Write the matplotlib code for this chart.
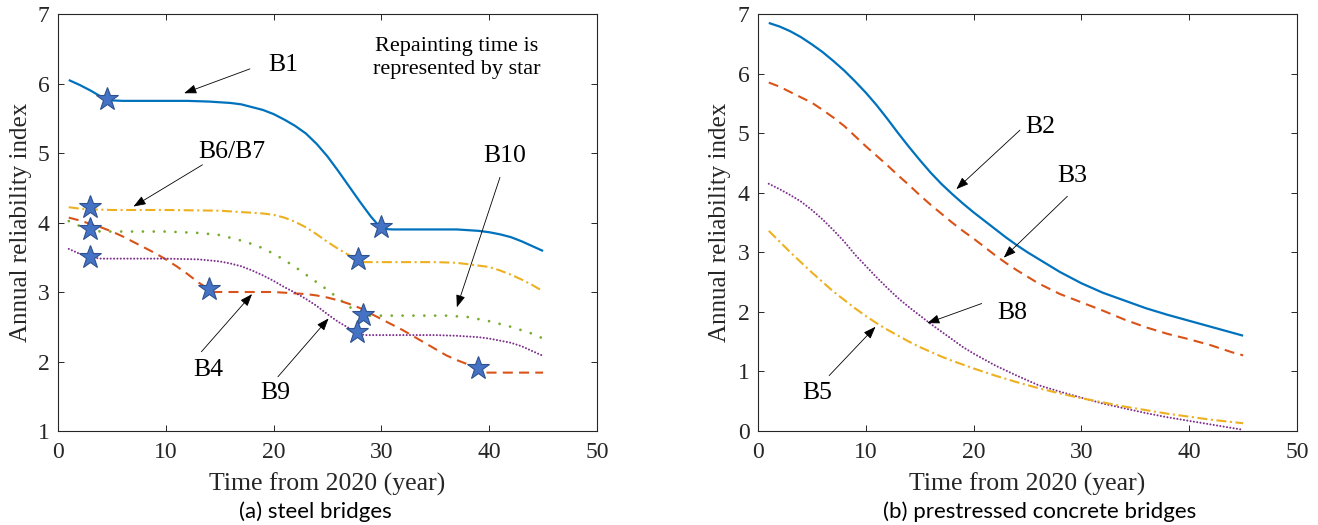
import matplotlib
matplotlib.use("Agg")
import matplotlib.pyplot as plt

# ---------------- data: (a) steel bridges ----------------
b1_x = [1, 2, 3, 4, 4.5, 6, 8, 10, 12, 14, 15, 16, 17, 18, 19, 20, 21, 22, 23, 24, 25, 26, 27, 28, 29, 30,
        31, 33, 35, 37, 38, 39, 40, 41, 42, 43, 44, 45]
b1_y = [6.05, 5.98, 5.90, 5.81, 5.76, 5.75, 5.75, 5.75, 5.75, 5.74, 5.73, 5.72, 5.70, 5.66, 5.62, 5.56, 5.48,
        5.39, 5.28, 5.13, 4.95, 4.74, 4.52, 4.30, 4.09, 3.91,
        3.90, 3.90, 3.90, 3.90, 3.89, 3.88, 3.86, 3.83, 3.79, 3.73, 3.66, 3.59]

b67_x = [1, 2, 3, 5, 10, 15, 17, 19, 20, 21, 22, 23, 24, 25, 26, 27, 27.8, 28.5, 30, 35, 37, 38, 39, 40, 41,
         42, 43, 44, 45]
b67_y = [4.22, 4.20, 4.19, 4.18, 4.18, 4.17, 4.15, 4.13, 4.11, 4.07, 4.01, 3.93, 3.83, 3.72, 3.62, 3.53, 3.45,
         3.43, 3.43, 3.43, 3.42, 3.40, 3.38, 3.36, 3.31, 3.25, 3.18, 3.10, 3.01]

b10_x = [1, 2, 3, 4, 6, 10, 13, 15, 16, 17, 18, 19, 20, 21, 22, 23, 24, 25, 26, 27, 28, 28.5, 30, 36, 37, 38,
         39, 40, 41, 42, 43, 44, 45]
b10_y = [4.02, 3.95, 3.89, 3.87, 3.87, 3.87, 3.85, 3.82, 3.78, 3.74, 3.69, 3.63, 3.55, 3.46, 3.36, 3.25, 3.14,
         3.03, 2.91, 2.79, 2.69, 2.66, 2.66, 2.66, 2.65, 2.64, 2.61, 2.58, 2.54, 2.50, 2.45, 2.40, 2.33]

b4_x = [1, 2, 3, 4, 5, 6, 7, 8, 9, 10, 11, 12, 13, 14, 14.5, 16, 18, 20, 21, 22, 23, 24, 25, 26, 27, 28, 29,
        30, 31, 32, 33, 34, 35, 36, 37, 38, 39, 39.5, 41, 45]
b4_y = [4.07, 4.03, 3.98, 3.93, 3.87, 3.80, 3.72, 3.64, 3.56, 3.47, 3.37, 3.26, 3.14, 3.04, 3.00, 3.00, 3.00,
        3.00, 2.99, 2.98, 2.97, 2.95, 2.92, 2.88, 2.83, 2.77, 2.69, 2.61, 2.53, 2.45, 2.36, 2.27, 2.18, 2.09,
        2.02, 1.96, 1.90, 1.84, 1.84, 1.84]

b9_x = [1, 2, 3, 4, 6, 10, 13, 15, 16, 17, 18, 19, 20, 21, 22, 23, 24, 25, 26, 27, 27.8, 28.5, 30, 35, 37, 38,
        39, 40, 41, 42, 43, 44, 45]
b9_y = [3.62, 3.55, 3.50, 3.48, 3.48, 3.48, 3.47, 3.44, 3.41, 3.37, 3.31, 3.24, 3.16, 3.07, 2.99, 2.90, 2.80,
        2.68, 2.57, 2.48, 2.40, 2.38, 2.38, 2.38, 2.37, 2.36, 2.35, 2.33, 2.30, 2.27, 2.22, 2.15, 2.08]

star_x = [4.5, 30, 3, 3, 3, 27.8, 14, 28.3, 27.7, 39]
star_y = [5.77, 3.93, 4.22, 3.91, 3.50, 3.48, 3.05, 2.67, 2.42, 1.91]

# ---------------- data: (b) prestressed concrete bridges ----------------
b2_x = [1, 2, 3, 4, 5, 6, 7, 8, 9, 10, 11, 12, 13, 14, 15, 16, 17, 18, 19, 20, 21, 22, 23, 24, 25, 26, 28,
        30, 32, 34, 36, 38, 40, 42, 44, 45]
b2_y = [6.85, 6.79, 6.71, 6.61, 6.49, 6.36, 6.21, 6.05, 5.87, 5.68, 5.47, 5.24, 5.00, 4.77, 4.55, 4.34, 4.15,
        3.98, 3.82, 3.67, 3.53, 3.39, 3.25, 3.12, 3.00, 2.89, 2.67, 2.48, 2.32, 2.19, 2.06, 1.95, 1.85, 1.75,
        1.65, 1.60]

b3_x = [1, 2, 3, 4, 5, 6, 7, 8, 9, 10, 11, 12, 13, 14, 15, 16, 17, 18, 19, 20, 21, 22, 23, 24, 26, 28, 30,
        32, 34, 36, 38, 40, 42, 44, 45]
b3_y = [5.85, 5.78, 5.69, 5.60, 5.51, 5.39, 5.26, 5.12, 4.95, 4.78, 4.62, 4.46, 4.29, 4.13, 3.96, 3.80, 3.65,
        3.50, 3.36, 3.23, 3.09, 2.95, 2.82, 2.70, 2.48, 2.30, 2.16, 2.02, 1.87, 1.74, 1.63, 1.54, 1.44, 1.32,
        1.27]

b8_x = [1, 2, 3, 4, 5, 6, 7, 8, 9, 10, 11, 12, 13, 14, 15, 16, 17, 18, 19, 20, 22, 24, 26, 28, 30, 32, 34,
        36, 38, 40, 42, 44, 45]
b8_y = [4.15, 4.06, 3.96, 3.85, 3.71, 3.55, 3.37, 3.18, 2.96, 2.77, 2.58, 2.40, 2.23, 2.08, 1.94, 1.80, 1.67,
        1.54, 1.41, 1.30, 1.10, 0.93, 0.77, 0.66, 0.56, 0.46, 0.38, 0.30, 0.23, 0.17, 0.11, 0.05, 0.02]

b5_x = [1, 2, 3, 4, 5, 6, 7, 8, 9, 10, 11, 12, 13, 14, 15, 16, 17, 18, 20, 22, 24, 26, 28, 30, 32, 34, 36,
        38, 40, 42, 44, 45]
b5_y = [3.36, 3.18, 3.00, 2.83, 2.66, 2.50, 2.34, 2.20, 2.06, 1.93, 1.81, 1.70, 1.60, 1.50, 1.41, 1.33, 1.25,
        1.18, 1.05, 0.93, 0.82, 0.72, 0.63, 0.55, 0.48, 0.41, 0.35, 0.29, 0.24, 0.19, 0.15, 0.13]

x_ticks = [0, 10, 20, 30, 40, 50]
y_ticks_a = [1, 2, 3, 4, 5, 6, 7]
y_ticks_b = [0, 1, 2, 3, 4, 5, 6, 7]

# ---------------- styling ----------------
BLUE = "#0072BD"
RED = "#D95319"
YELLOW = "#EDB120"
PURPLE = "#7E2F8E"
GREEN = "#77AC30"
SERIF = ["Liberation Serif", "DejaVu Serif"]

fig = plt.figure(figsize=(13.18, 5.25), dpi=100)
ax1 = fig.add_axes([58 / 1318, 1 - 431 / 525, 539 / 1318, 417 / 525])
ax2 = fig.add_axes([758 / 1318, 1 - 431 / 525, 539 / 1318, 417 / 525])

LW = 1.5
dash_red = (0, (4.8, 3.0))
dashdot_yel = (0, (4.8, 1.7, 1.0, 1.7))
dot_green = (0, (0.01, 3.9))
dot_purple = (0, (0.01, 1.6))


def style_axes(ax, yticks, ylim):
    ax.set_xlim(0, 50)
    ax.set_ylim(*ylim)
    ax.set_xticks(x_ticks)
    ax.set_yticks(yticks)
    ax.tick_params(direction="in", length=4.5, width=0.7, top=True, right=True,
                   colors="#262626", labelsize=17, pad=6)
    for lab in ax.get_xticklabels() + ax.get_yticklabels():
        lab.set_family(SERIF)
        lab.set_color("#262626")
    ax.tick_params(axis="x", pad=8)
    for s in ax.spines.values():
        s.set_color("#262626")
        s.set_linewidth(0.8)
    ax.set_xlabel("Time from 2020 (year)", family=SERIF, fontsize=18.5, color="#262626", va="center")
    ax.set_ylabel("Annual reliability index", family=SERIF, fontsize=18, color="#262626", va="center")
    ax.xaxis.set_label_coords(0.5, -0.127)


def arrow(ax, tail, head):
    ax.annotate("", xy=head, xytext=tail,
                arrowprops=dict(arrowstyle="-|>,head_length=0.75,head_width=0.28",
                                color="black", lw=0.6, mutation_scale=10,
                                shrinkA=0, shrinkB=0))


# ---- panel (a)
ax1.plot(b1_x, b1_y, color=BLUE, lw=LW + 0.1, solid_capstyle="butt")
ax1.plot(b67_x, b67_y, color=YELLOW, lw=LW, linestyle=dashdot_yel)
ax1.plot(b10_x, b10_y, color=GREEN, lw=2.0, linestyle=dot_green, dash_capstyle="round")
ax1.plot(b4_x, b4_y, color=RED, lw=LW, linestyle=dash_red)
ax1.plot(b9_x, b9_y, color=PURPLE, lw=1.5, linestyle=dot_purple, dash_capstyle="round")
ax1.plot(star_x, star_y, linestyle="none", marker="*", markersize=17,
         markerfacecolor="#4472C4", markeredgecolor="#2F528F", markeredgewidth=0.8, zorder=5)
style_axes(ax1, y_ticks_a, (1, 7))
ax1.yaxis.set_label_coords(-0.069, 0.5)

lab_kw = dict(family=SERIF, fontsize=18.5, ha="center", va="center", color="black")
ax1.text(20.9, 6.27, "B1", **lab_kw)
arrow(ax1, (17.8, 6.21), (11.7, 5.86))
ax1.text(16.1, 5.02, "B6/B7", **lab_kw)
arrow(ax1, (13.4, 4.83), (7.0, 4.23))
ax1.text(41.4, 4.96, "B10", **lab_kw)
arrow(ax1, (41.0, 4.65), (37.0, 2.78))
ax1.text(13.9, 1.88, "B4", **lab_kw)
arrow(ax1, (13.3, 2.14), (18.0, 2.97))
ax1.text(20.2, 1.54, "B9", **lab_kw)
arrow(ax1, (20.4, 1.78), (25.1, 2.62))
ax1.text(37.0, 6.37, "Repainting time is\nrepresented by star", family=SERIF, fontsize=16,
         ha="center", va="center", linespacing=1.3)

# ---- panel (b)
ax2.plot(b2_x, b2_y, color=BLUE, lw=LW + 0.1, solid_capstyle="butt")
ax2.plot(b3_x, b3_y, color=RED, lw=LW, linestyle=dash_red)
ax2.plot(b8_x, b8_y, color=PURPLE, lw=1.5, linestyle=dot_purple, dash_capstyle="round")
ax2.plot(b5_x, b5_y, color=YELLOW, lw=LW, linestyle=dashdot_yel)
style_axes(ax2, y_ticks_b, (0, 7))
ax2.yaxis.set_label_coords(-0.070, 0.5)

ax2.text(26.2, 5.11, "B2", **lab_kw)
arrow(ax2, (24.3, 5.05), (18.4, 4.06))
ax2.text(29.2, 4.28, "B3", **lab_kw)
arrow(ax2, (28.7, 3.94), (22.8, 2.91))
ax2.text(23.6, 1.98, "B8", **lab_kw)
arrow(ax2, (20.75, 2.14), (15.7, 1.81))
ax2.text(5.5, 0.64, "B5", **lab_kw)
arrow(ax2, (6.6, 0.93), (10.9, 1.75))

# ---- captions
cap_kw = dict(family=["Lato", "DejaVu Sans"], fontsize=16, ha="center", va="center", color="black")
fig.text(315 / 1318, 1 - 512 / 525, "(a) steel bridges", **cap_kw)
fig.text(1040 / 1318, 1 - 512 / 525, "(b) prestressed concrete bridges", **cap_kw)

fig.savefig("out.png", dpi=100)
